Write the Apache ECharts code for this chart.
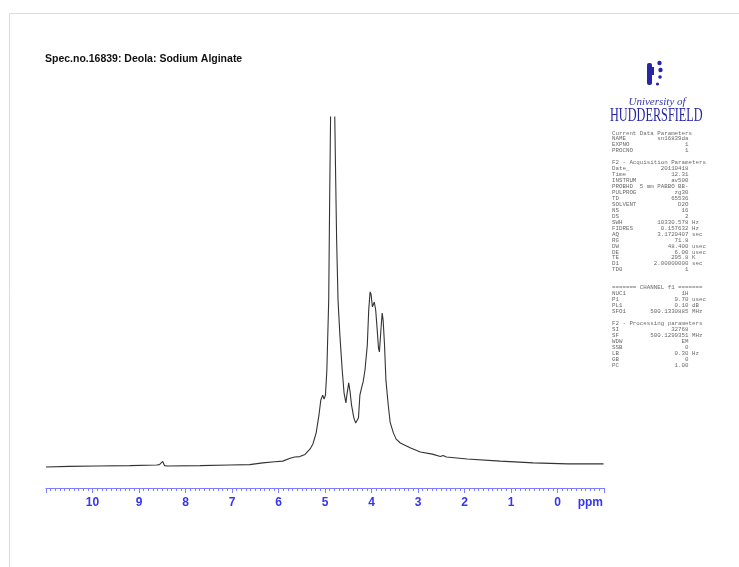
<!DOCTYPE html>
<html>
<head>
<meta charset="utf-8">
<script src="https://cdn.jsdelivr.net/npm/echarts@6/dist/echarts.min.js"></script>
<style>
html, body { margin: 0; padding: 0; background: #fff; }
#chart { width: 739px; height: 567px; }
</style>
</head>
<body>
<div id="chart"></div>
<script>
// chemical shift (ppm) and intensity
const ppmValues = [
  11.0, 10.5, 9.91, 9.2, 8.62, 8.56, 8.49, 8.45, 8.38, 7.69, 7.05, 6.62, 6.34, 6.08, 5.91,
  5.75, 5.65, 5.54, 5.43, 5.32, 5.26, 5.19, 5.13, 5.09, 5.05, 5.02, 4.99, 4.96, 4.92, 4.90,
  4.88, 4.86, 4.83, 4.80, 4.79, 4.77, 4.75, 4.72, 4.68, 4.63, 4.59, 4.55, 4.53, 4.49, 4.46,
  4.43, 4.38, 4.34, 4.31, 4.28, 4.25, 4.21, 4.18, 4.14, 4.09, 4.06, 4.03, 4.01, 3.98, 3.94,
  3.91, 3.88, 3.85, 3.83, 3.79, 3.77, 3.75, 3.72, 3.69, 3.64, 3.60, 3.53, 3.47, 3.38, 3.17,
  2.95, 2.69, 2.52, 2.46, 2.39, 1.94, 1.23, 0.52, -0.22, -0.99
]
const intensityValues = [
  -0.3, -0.1, 0, 0.1, 0.3, 0.4, 1.3, 0.1, 0, 0.1, 0.3, 0.4, 0.9, 1.2, 1.4,
  2.2, 2.6, 2.7, 3.3, 4.9, 6.3, 9.5, 14.6, 18.9, 20.3, 19.2, 20.3, 27.5, 47.6, 76.2,
  100, 160, 180, 160, 100, 82, 64.8, 47.6, 37.5, 27.5, 20.9, 18.1, 20.3, 23.8, 21.2,
  17.5, 13.8, 12.3, 12.0, 13.8, 20.3, 22.6, 24.1, 27.5, 34.7, 44.7, 49.9, 49.3, 45.6, 47.0,
  44.7, 39.5, 33.8, 32.7, 40.4, 43.8, 41.8, 34.7, 24.6, 17.5, 12.6, 9.5, 7.7, 6.6, 5.2,
  4.0, 3.4, 2.7, 3.0, 2.6, 2.0, 1.4, 0.9, 0.6, 0.6
]
const tickLabels = ['10', '9', '8', '7', '6', '5', '4', '3', '2', '1', '0']

const paramLines = [
  ['Current Data Parameters'],
  ['NAME', 'sn16839da'],
  ['EXPNO', '1'],
  ['PROCNO', '1'],
  [''],
  ['F2 - Acquisition Parameters'],
  ['Date_', '20110418'],
  ['Time', '12.31'],
  ['INSTRUM', 'av500'],
  ['PROBHD', '5 mm PABBO BB-'],
  ['PULPROG', 'zg30'],
  ['TD', '65536'],
  ['SOLVENT', 'D2O'],
  ['NS', '16'],
  ['DS', '2'],
  ['SWH', '10330.578', 'Hz'],
  ['FIDRES', '0.157632', 'Hz'],
  ['AQ', '3.1720407', 'sec'],
  ['RG', '71.8'],
  ['DW', '48.400', 'usec'],
  ['DE', '6.00', 'usec'],
  ['TE', '295.8', 'K'],
  ['D1', '2.00000000', 'sec'],
  ['TD0', '1'],
  [''],
  [''],
  ['======= CHANNEL f1 ======='],
  ['NUC1', '1H'],
  ['P1', '9.70', 'usec'],
  ['PL1', '0.10', 'dB'],
  ['SFO1', '500.1330885', 'MHz'],
  [''],
  ['F2 - Processing parameters'],
  ['SI', '32768'],
  ['SF', '500.1299351', 'MHz'],
  ['WDW', 'EM'],
  ['SSB', '0'],
  ['LB', '0.30', 'Hz'],
  ['GB', '0'],
  ['PC', '1.00']
]

function paramRow (p) {
  if (p.length === 1) return p[0]
  let gap = Math.max(1, 22 - p[0].length - p[1].length)
  return p[0] + ' '.repeat(gap) + p[1] + (p[2] ? ' ' + p[2] : '')
}

let spectrum = []
for (let i = 0; i < ppmValues.length; i++) {
  spectrum.push([ppmValues[i], intensityValues[i]])
}

let blue = '#3535f2'
let logoBlue = '#2626a6'
let myChart = echarts.init(document.getElementById('chart'))
let option = {
  animation: false,
  title: {
    text: 'Spec.no.16839: Deola: Sodium Alginate',
    left: 45,
    top: 54,
    padding: 0,
    textStyle: {
      fontFamily: 'Liberation Sans',
      fontSize: 10.5,
      fontWeight: 'bold',
      color: '#111'
    }
  },
  grid: {
    left: 46,
    right: 135,
    top: 117,
    bottom: 79
  },
  xAxis: {
    type: 'value',
    min: -1,
    max: 11,
    interval: 1,
    inverse: true,
    axisLine: {
      onZero: false,
      lineStyle: { color: '#7d7dff', width: 1 }
    },
    axisTick: {
      length: 5,
      lineStyle: { color: '#7d7dff' }
    },
    minorTick: {
      show: true,
      splitNumber: 10,
      length: 3,
      lineStyle: { color: '#7d7dff' }
    },
    splitLine: { show: false },
    axisLabel: {
      margin: 9,
      fontFamily: 'Liberation Sans',
      fontSize: 12,
      fontWeight: 'bold',
      color: blue,
      formatter: function (v) {
        let s = String(v)
        return tickLabels.indexOf(s) >= 0 ? s : ''
      }
    }
  },
  yAxis: {
    type: 'value',
    min: -6.3,
    max: 100,
    show: false
  },
  series: [{
    type: 'line',
    data: spectrum,
    showSymbol: false,
    clip: true,
    lineStyle: { color: '#333', width: 1.1 }
  }],
  graphic: [
    // page border
    { type: 'line', shape: { x1: 9.5, y1: 13.5, x2: 739, y2: 13.5 }, style: { stroke: '#dcdcdc', lineWidth: 1 } },
    { type: 'line', shape: { x1: 9.5, y1: 13.5, x2: 9.5, y2: 567 }, style: { stroke: '#dcdcdc', lineWidth: 1 } },
    {
      type: 'text', x: 603, y: 503,
      style: { text: 'ppm', align: 'right', verticalAlign: 'middle', fontFamily: 'Liberation Sans', fontSize: 12, fontWeight: 'bold', fill: blue }
    },
    // logo mark
    { type: 'rect', shape: { x: 647, y: 63, width: 5, height: 22, r: 2 }, style: { fill: logoBlue } },
    { type: 'rect', shape: { x: 651, y: 67, width: 3, height: 8 }, style: { fill: logoBlue } },
    { type: 'circle', shape: { cx: 659.5, cy: 63, r: 2.2 }, style: { fill: logoBlue } },
    { type: 'circle', shape: { cx: 660.5, cy: 70, r: 2.2 }, style: { fill: logoBlue } },
    { type: 'circle', shape: { cx: 660, cy: 77, r: 1.8 }, style: { fill: logoBlue } },
    { type: 'circle', shape: { cx: 657.5, cy: 84, r: 1.6 }, style: { fill: logoBlue } },
    {
      type: 'text', x: 657, y: 102,
      style: { text: 'University of', align: 'center', verticalAlign: 'middle', fontFamily: 'Liberation Serif', fontStyle: 'italic', fontSize: 11, fill: '#3838b0' }
    },
    {
      type: 'text', x: 610, y: 116, scaleX: 0.645,
      style: { text: 'HUDDERSFIELD', align: 'left', verticalAlign: 'middle', fontFamily: 'Liberation Serif', fontSize: 19, fill: logoBlue }
    },
    {
      type: 'text', x: 612, y: 130,
      style: {
        text: paramLines.map(paramRow).join('\n'),
        fontFamily: 'Liberation Mono',
        fontSize: 5.8,
        lineHeight: 5.95,
        verticalAlign: 'top',
        fill: '#6a6a6a'
      }
    }
  ]
}
myChart.setOption(option)
</script>
</body>
</html>
